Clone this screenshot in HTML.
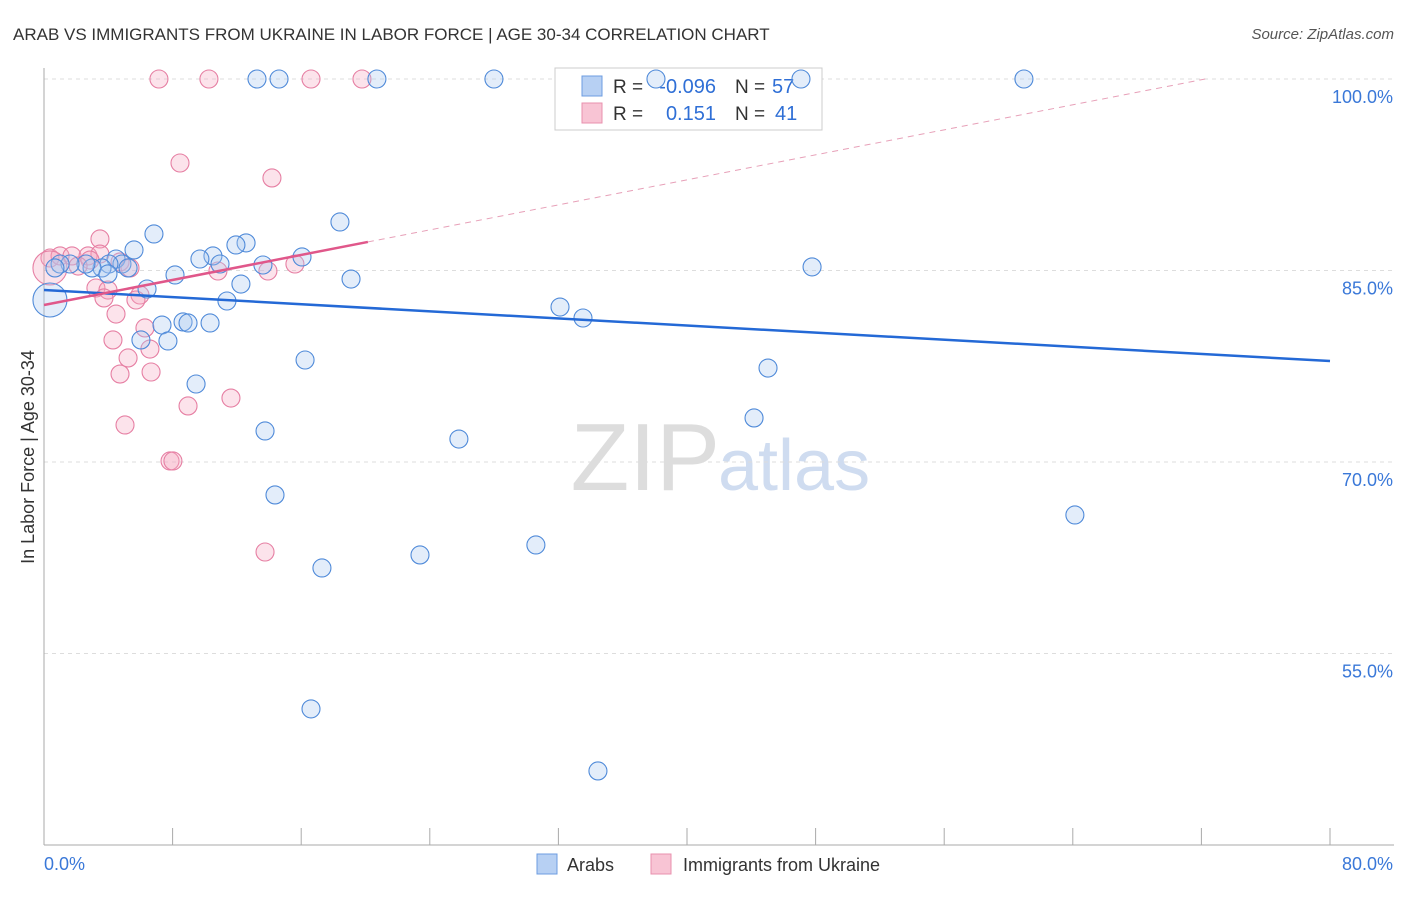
<!DOCTYPE html>
<html><head><meta charset="utf-8"><style>
body{margin:0;background:#fff;font-family:"Liberation Sans",sans-serif}
svg text{font-family:"Liberation Sans",sans-serif}
</style></head><body>
<svg id="chart" width="1406" height="892" xmlns="http://www.w3.org/2000/svg">
<text x="13" y="40" font-size="17" fill="#333">ARAB VS IMMIGRANTS FROM UKRAINE IN LABOR FORCE | AGE 30-34 CORRELATION CHART</text>
<text x="1394" y="39" font-size="15" fill="#555" font-style="italic" text-anchor="end">Source: ZipAtlas.com</text>
<text x="720" y="490" font-size="96" fill="#ddd" text-anchor="end" font-family="Liberation Serif">ZIP</text>
<text x="718" y="490" font-size="72" fill="#cfdcf0">atlas</text>
<g id="grid"></g><g id="axes"></g>
<g>
<rect x="555" y="68" width="267" height="62" fill="#fff" stroke="#ccc"/>
<rect x="582" y="76" width="20" height="20" fill="#b7d0f3" stroke="#6c9ce0"/>
<rect x="582" y="103" width="20" height="20" fill="#f8c4d4" stroke="#e890ae"/>
<text x="613" y="93" font-size="19" fill="#333">R =</text>
<text x="716" y="93" font-size="20" fill="#2f6fd6" text-anchor="end">-0.096</text>
<text x="735" y="93" font-size="19" fill="#333">N =</text>
<text x="772" y="93" font-size="20" fill="#2f6fd6">57</text>
<text x="613" y="120" font-size="19" fill="#333">R =</text>
<text x="716" y="120" font-size="20" fill="#2f6fd6" text-anchor="end">0.151</text>
<text x="735" y="120" font-size="19" fill="#333">N =</text>
<text x="775" y="120" font-size="20" fill="#2f6fd6">41</text>
</g>
<g id="pts"></g><g id="trend"></g>
<text transform="translate(34,457) rotate(-90)" font-size="18" fill="#333" text-anchor="middle">In Labor Force | Age 30-34</text>
<g>
<rect x="537" y="854" width="20" height="20" fill="#b7d0f3" stroke="#6c9ce0"/>
<text x="567" y="871" font-size="18" fill="#333">Arabs</text>
<rect x="651" y="854" width="20" height="20" fill="#f8c4d4" stroke="#e890ae"/>
<text x="683" y="871" font-size="18" fill="#333">Immigrants from Ukraine</text>
</g>
</svg>
<script>
const xTicksLabels=["0.0%","80.0%"];
const yTicks=[100,85,70,55];
const arabX=[13.25,14.62,20.71,27.99,38.07,47.09,60.96,6.84,5.60,12.57,11.94,10.51,9.70,10.95,16.05,13.62,18.41,4.48,4.85,5.23,4.04,3.61,2.99,2.61,1.62,1.00,0.68,3.98,8.15,12.25,19.10,47.78,6.41,11.38,32.10,33.53,7.34,8.65,8.96,10.33,6.03,7.71,16.24,45.04,9.46,44.17,13.75,25.81,14.37,64.13,30.60,23.39,17.29,16.61,34.46,0.37];
const arabY=[100,100,100,100,100,100,100,87.86,86.61,87.16,87.00,86.14,85.90,85.51,86.06,85.43,88.80,85.90,85.51,85.20,85.51,85.20,85.20,85.51,85.51,85.51,85.20,84.73,84.65,83.94,84.33,85.28,83.55,82.61,82.14,81.28,80.73,80.97,80.89,80.89,79.56,79.48,77.99,77.36,76.11,73.45,72.43,71.80,67.42,65.85,63.50,62.72,61.70,50.66,45.80,82.69];
const ukrX=[7.15,10.26,16.61,19.78,8.46,14.18,3.48,0.37,1.00,1.74,2.74,3.48,2.86,2.12,4.73,5.35,10.82,13.93,15.61,5.97,3.23,3.98,3.73,5.72,4.48,6.28,4.29,6.59,5.23,4.73,6.66,8.96,11.63,5.04,7.84,8.02,13.75,0.37];
const ukrY=[100,100,100,100,93.42,92.25,87.47,85.98,86.14,86.14,86.14,86.29,85.82,85.35,85.67,85.20,84.96,84.96,85.51,83.08,83.63,83.47,82.85,82.69,81.59,80.50,79.56,78.85,78.15,76.89,77.05,74.39,75.01,72.90,70.08,70.08,62.95,85.2];
const arabTrend=[83.47,77.91];
const ukrTrend=[82.30,0.245];
const X=v=>44+v/80*1286, Y=v=>79+(100-v)/15*191.5;
const NS="http://www.w3.org/2000/svg";
function mk(t,a,p){const e=document.createElementNS(NS,t);for(const k in a)e.setAttribute(k,a[k]);p.appendChild(e);return e;}
const grid=document.getElementById('grid'),axes=document.getElementById('axes'),pts=document.getElementById('pts'),tr=document.getElementById('trend');
yTicks.forEach(v=>{const l=mk('line',{x1:44,x2:1394,y1:Y(v),y2:Y(v),stroke:'#ddd','stroke-dasharray':'4,4'},grid);


const t=mk('text',{x:1393,y:Y(v)+24,'font-size':18,fill:'#3a78d8','text-anchor':'end'},grid);t.textContent=v.toFixed(1)+'%';

});
const ax=mk('line',{x1:44,x2:44,y1:68,y2:845,stroke:'#aaa'},axes);


const bx=mk('line',{x1:44,x2:1394,y1:845,y2:845,stroke:'#aaa'},axes);


for(let i=0;i<=10;i++){const v=i*8;const tk=mk('line',{x1:X(v),x2:X(v),y1:828,y2:845,stroke:'#aaa'},axes);

}
[[0,xTicksLabels[0],'start'],[80,xTicksLabels[1],'end']].forEach(([v,s,a])=>{const t=mk('text',{x:a==='start'?X(v):1393,y:870,'font-size':18,fill:'#3a78d8','text-anchor':a},axes);t.textContent=s;

});
function dots(xs,ys,fill,stroke,name){xs.forEach((x,i)=>{const big=i===xs.length-1;const c=mk('circle',{cx:X(x),cy:Y(ys[i]),r:big?17:9,fill:fill,'fill-opacity':0.32,stroke:stroke,'stroke-width':1.1},pts);

});}
dots(ukrX,ukrY,'#f5a9c0','#e67fa3','ukraine-point');
dots(arabX,arabY,'#a9c8f0','#4f8ad9','arab-point');
const bl=mk('line',{x1:X(0),y1:Y(arabTrend[0]),x2:X(80),y2:Y(arabTrend[1]),stroke:'#2469d6','stroke-width':2.5},tr);


const xe=20.15,xd=(100-ukrTrend[0])/ukrTrend[1];
const pl=mk('line',{x1:X(0),y1:Y(ukrTrend[0]),x2:X(xe),y2:Y(ukrTrend[0]+ukrTrend[1]*xe),stroke:'#e0578a','stroke-width':2.5},tr);


const pd=mk('line',{x1:X(xe),y1:Y(ukrTrend[0]+ukrTrend[1]*xe),x2:X(xd),y2:Y(100),stroke:'#e7a0b8','stroke-width':1,'stroke-dasharray':'6,5'},tr);


</script>
</body></html>
